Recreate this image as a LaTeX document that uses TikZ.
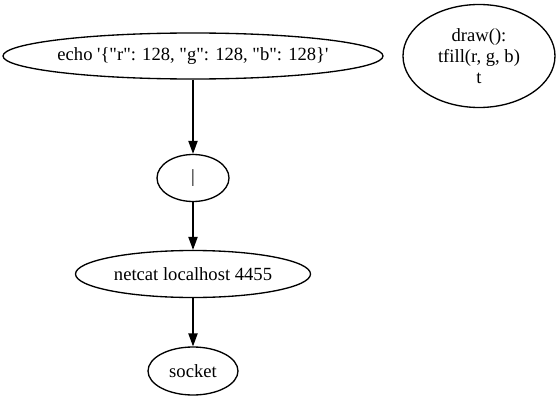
\documentclass[tikz,border=0pt]{standalone}
\usepackage{fontspec}
\setmainfont{Liberation Serif}[Ligatures=TeXOff]
\usetikzlibrary{shapes.geometric,arrows.meta}
\tikzset{
  gvnode/.style={draw, ellipse, line width=1.33pt, inner sep=0pt, align=center,
    font=\fontsize{18.6}{21}\selectfont},
  gvedge/.style={line width=1.33pt, -{Triangle[length=13pt,width=9.3pt]}}
}
\begin{document}
\begin{tikzpicture}[x=1pt,y=1pt]
\useasboundingbox (0,0) rectangle (557,400);
\node[gvnode, minimum width=380pt, minimum height=46pt] (echo) at (193,344) {\makebox[0pt]{echo '\{"r": 128, "g": 128, "b": 128\}'}};
\node[gvnode, minimum width=152pt, minimum height=103pt] (draw) at (479,344) {draw():\\tfill(r, g, b)\\t};
\node[gvnode, minimum width=72pt, minimum height=47pt] (pipe) at (193,222) {\makebox[0pt]{|}};
\node[gvnode, minimum width=235pt, minimum height=47pt] (netcat) at (193,126) {\makebox[0pt]{netcat localhost 4455}};
\node[gvnode, minimum width=90pt, minimum height=48pt] (socket) at (193,29) {\makebox[0pt]{socket}};
\draw[gvedge] (echo) -- (pipe);
\draw[gvedge] (pipe) -- (netcat);
\draw[gvedge] (netcat) -- (socket);
\end{tikzpicture}
\end{document}
